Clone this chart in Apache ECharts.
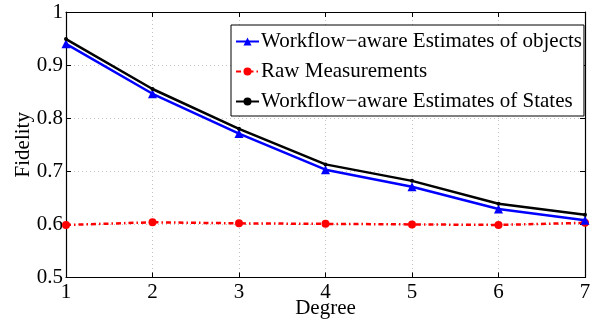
<!DOCTYPE html>
<html>
<head>
<meta charset="utf-8">
<script src="https://cdn.jsdelivr.net/npm/echarts@6/dist/echarts.min.js"></script>
<style>html,body{margin:0;padding:0;background:#fff;}#c{width:595px;height:324px;}</style>
</head>
<body>
<div id="c"></div>
<script>
const degrees = ['1','2','3','4','5','6','7'];
const objectsEst = [0.940, 0.846, 0.771, 0.703, 0.671, 0.629, 0.608];
const rawMeas = [0.599, 0.604, 0.602, 0.601, 0.600, 0.599, 0.603];
const statesEst = [0.949, 0.855, 0.780, 0.713, 0.682, 0.639, 0.618];
const yTicks = [0.5, 0.6, 0.7, 0.8, 0.9, 1];
const names = ['Workflow\u2212aware Estimates of objects', 'Raw Measurements', 'Workflow\u2212aware Estimates of States'];

const font = 'Liberation Serif';
const chart = echarts.init(document.getElementById('c'), null, {renderer: 'canvas'});
const xData = degrees.map(Number);
function pairs(arr){ return arr.map((v,i)=>[xData[i], v]); }

chart.setOption({
  animation: false,
  backgroundColor: '#fff',
  grid: {left: 66, right: 10, top: 12, bottom: 45, containLabel: false},
  legend: {
    orient: 'vertical',
    left: 231, top: 25,
    padding: [6, 2, 4, 4],
    backgroundColor: '#fff',
    borderColor: '#000', borderWidth: 1,
    itemWidth: 23, itemHeight: 10, itemGap: 9,
    textStyle: {fontFamily: font, fontSize: 21, color: '#000', padding: [0,0,0,-3]},
    data: names
  },
  xAxis: [{
    type: 'value', min: 1, max: 7, interval: 1,
    name: 'Degree', nameLocation: 'middle', nameGap: 31, nameMoveOverlap: false,
    nameTextStyle: {fontFamily: font, fontSize: 21, color: '#000', verticalAlign: 'middle'},
    axisLine: {show: true, lineStyle: {color: '#000', width: 1.2}},
    axisTick: {show: true, inside: true, length: 5, lineStyle: {color: '#000'}},
    axisLabel: {fontFamily: font, fontSize: 21, color: '#000', margin: 4,
      formatter: v => degrees[v-1] || ''},
    splitLine: {show: true, lineStyle: {color: '#c4c4c4', type: [1,3], width: 1}}
  },{
    type: 'value', min: 1, max: 7, interval: 1, position: 'top',
    axisLine: {show: true, onZero: false, lineStyle: {color: '#000', width: 1.2}},
    axisTick: {show: true, inside: true, length: 5, lineStyle: {color: '#000'}},
    axisLabel: {show: false}, splitLine: {show: false}
  }],
  yAxis: [{
    type: 'value', min: 0.5, max: 1, interval: 0.1,
    name: 'Fidelity', nameLocation: 'middle', nameGap: 43, nameMoveOverlap: false,
    nameTextStyle: {fontFamily: font, fontSize: 21, color: '#000', verticalAlign: 'middle'},
    axisLine: {show: true, lineStyle: {color: '#000', width: 1.2}},
    axisTick: {show: true, inside: true, length: 5, lineStyle: {color: '#000'}},
    axisLabel: {fontFamily: font, fontSize: 21, color: '#000', margin: 3,
      formatter: v => { const t = yTicks.find(x => Math.abs(x - v) < 1e-9); return t === undefined ? '' : String(t); }},
    splitLine: {show: true, lineStyle: {color: '#c4c4c4', type: [1,3], width: 1}}
  },{
    type: 'value', min: 0.5, max: 1, interval: 0.1, position: 'right',
    axisLine: {show: true, onZero: false, lineStyle: {color: '#000', width: 1.2}},
    axisTick: {show: true, inside: true, length: 5, lineStyle: {color: '#000'}},
    axisLabel: {show: false}, splitLine: {show: false}
  }],
  series: [{
    name: names[0], type: 'line', data: pairs(objectsEst),
    symbol: 'triangle', symbolSize: 9, showAllSymbol: true,
    lineStyle: {color: '#0000ff', width: 2.5},
    itemStyle: {color: '#0000ff'}, z: 3
  },{
    name: names[1], type: 'line', data: pairs(rawMeas),
    symbol: 'circle', symbolSize: 8,
    lineStyle: {color: '#ff0000', width: 2.5, type: [5,3,1.5,3]},
    itemStyle: {color: '#ff0000'}, z: 2
  },{
    name: names[2], type: 'line', data: pairs(statesEst),
    symbol: 'circle', symbolSize: 4,
    lineStyle: {color: '#000', width: 2.5},
    itemStyle: {color: '#000'}, z: 4
  }]
});
</script>
</body>
</html>
